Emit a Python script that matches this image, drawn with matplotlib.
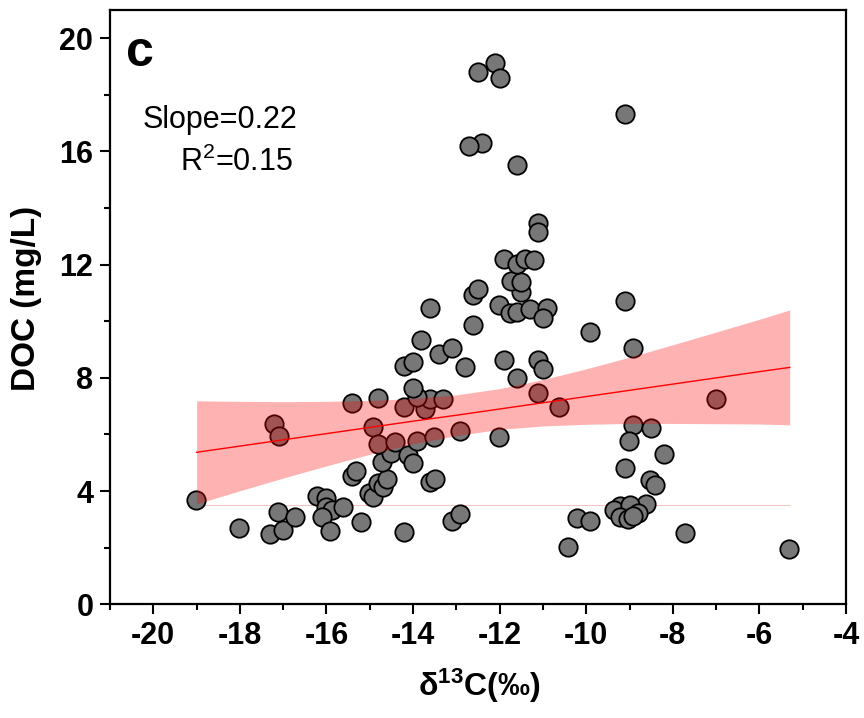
import matplotlib
matplotlib.use("Agg")
import matplotlib.pyplot as plt
from matplotlib import font_manager
from matplotlib.ticker import MultipleLocator

# ---- data ----
d13c = [-19.01, -18.01, -17.31, -17.01, -17.11, -16.72, -17.21, -17.10, -16.23, -16.00,
        -16.00, -15.87, -16.11, -15.92, -15.62, -15.21, -15.41, -15.31, -15.02, -14.92,
        -14.81, -14.69, -14.61, -14.71, -14.52, -14.11, -14.01, -13.60, -13.50, -14.21,
        -13.11, -12.92, -15.41, -14.81, -14.92, -14.81, -14.41, -13.92, -13.51, -12.92,
        -14.21, -13.72, -13.61, -13.31, -13.91, -14.01, -14.21, -14.01, -13.41, -13.11,
        -12.81, -13.81, -13.61, -12.62, -12.62, -12.50, -12.01, -11.77, -11.60, -11.31,
        -10.91, -11.01, -11.50, -11.73, -11.51, -11.91, -11.60, -11.42, -11.21, -11.11,
        -11.11, -11.61, -12.40, -12.71, -12.11, -12.50, -12.00, -11.91, -11.11, -11.01,
        -11.61, -11.11, -10.62, -12.01, -9.11, -9.11, -9.91, -8.91, -7.01, -8.91,
        -8.51, -9.01, -8.21, -9.11, -8.52, -8.41, -8.61, -9.21, -9.37, -8.99,
        -8.81, -9.22, -9.03, -8.93, -10.21, -9.91, -10.41, -7.71, -5.31]
doc = [3.67, 2.70, 2.48, 2.64, 3.25, 3.10, 6.37, 5.96, 3.81, 3.75,
       3.44, 3.33, 3.09, 2.60, 3.42, 2.91, 4.54, 4.71, 3.92, 3.80,
       4.30, 4.14, 4.44, 5.04, 5.33, 5.27, 4.98, 4.33, 4.44, 2.54,
       2.93, 3.19, 7.12, 7.28, 6.28, 5.65, 5.74, 5.78, 5.91, 6.12,
       6.96, 6.91, 7.24, 7.24, 7.34, 7.64, 8.41, 8.55, 8.84, 9.05,
       8.39, 9.35, 10.46, 9.88, 10.94, 11.14, 10.59, 10.28, 10.32, 10.44,
       10.47, 10.10, 11.04, 11.43, 11.39, 12.21, 12.02, 12.21, 12.17, 13.46,
       13.17, 15.51, 16.30, 16.18, 19.12, 18.82, 18.59, 8.62, 8.62, 8.33,
       8.00, 7.47, 6.98, 5.92, 17.31, 10.73, 9.61, 9.06, 7.24, 6.34,
       6.23, 5.76, 5.30, 4.81, 4.40, 4.23, 3.56, 3.47, 3.32, 3.52,
       3.22, 3.10, 3.00, 3.12, 3.04, 2.95, 2.04, 2.51, 1.94]

# fitted line and its confidence band
band_x = [-19, -18, -17, -16, -15, -14, -13, -12, -11, -10, -9, -8, -7, -6, -5.3]
fit_y = [5.37, 5.59, 5.81, 6.03, 6.25, 6.47, 6.68, 6.90, 7.12, 7.34, 7.56, 7.78, 8.00, 8.22, 8.37]
band_upper = [7.19, 7.17, 7.16, 7.17, 7.20, 7.27, 7.40, 7.62, 7.94, 8.32, 8.73, 9.17, 9.62, 10.07, 10.40]
band_lower = [3.55, 4.01, 4.46, 4.89, 5.30, 5.67, 5.96, 6.18, 6.30, 6.36, 6.39, 6.39, 6.38, 6.37, 6.34]
flat_line_y = 3.5

x_ticks = [-20, -18, -16, -14, -12, -10, -8, -6, -4]
y_ticks = [0, 4, 8, 12, 16, 20]

# ---- fonts ----
def has_font(name):
    try:
        font_manager.findfont(font_manager.FontProperties(family=name), fallback_to_default=False)
        return True
    except Exception:
        return False

base = "Liberation Sans" if has_font("Liberation Sans") else "DejaVu Sans"
plt.rcParams['font.family'] = [base, 'DejaVu Sans']
plt.rcParams['mathtext.fontset'] = 'custom'
plt.rcParams['mathtext.rm'] = base
plt.rcParams['mathtext.bf'] = base + ':bold'

fig = plt.figure(figsize=(8.64, 7.18), dpi=100)
ax = fig.add_axes([0.1273, 0.1584, 0.8519, 0.8277])

ax.scatter(d13c, doc, s=175, facecolor='#777777', edgecolor='black', linewidths=1.3, zorder=2)
ax.fill_between(band_x, band_lower, band_upper, color='red', alpha=0.3, linewidth=0, zorder=3)
ax.plot(band_x, fit_y, color='red', lw=1.0, zorder=4)
ax.hlines(flat_line_y, band_x[0], band_x[-1], color='#f2c4c4', lw=0.8, zorder=1)

ax.set_xlim(-21, -4)
ax.set_ylim(0, 21)
ax.set_xticks(x_ticks)
ax.set_yticks(y_ticks)
ax.xaxis.set_minor_locator(MultipleLocator(1))
ax.yaxis.set_minor_locator(MultipleLocator(2))
ax.set_xticklabels([str(v) for v in x_ticks], fontweight='bold', fontsize=22)
ax.set_yticklabels([str(v) for v in y_ticks], fontweight='bold', fontsize=22)

for s in ax.spines.values():
    s.set_linewidth(1.6)
ax.tick_params(which='major', direction='out', length=7, width=1.5, pad=5)
ax.tick_params(which='minor', direction='out', length=4, width=1.5)
ax.tick_params(top=False, right=False, which='both')

ax.set_ylabel('DOC (mg/L)', fontsize=24, fontweight='bold')
ax.yaxis.set_label_coords(-0.0924, 0.515)
ax.set_xlabel(r'$\mathbf{\delta^{13}C}$' + '(‰)', fontsize=23, fontweight='bold')
ax.xaxis.set_label_coords(0.501, -0.105)

ax.text(0.022, 0.967, 'c', transform=ax.transAxes, fontsize=36, fontweight='bold',
        ha='left', va='top')
ax.text(0.254, 0.815, 'Slope=0.22', transform=ax.transAxes, fontsize=22, ha='right', va='center')
ax.text(0.249, 0.743, r'R$^2$=0.15', transform=ax.transAxes, fontsize=22, ha='right', va='center')

fig.savefig('out.png', dpi=100)
